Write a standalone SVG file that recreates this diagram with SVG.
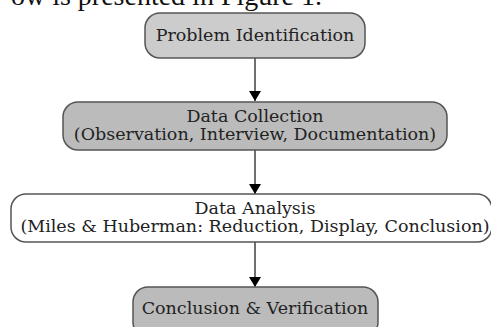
<svg xmlns="http://www.w3.org/2000/svg" width="491" height="327" viewBox="0 0 491 327">
<defs>
<style>
.box{stroke:#555;stroke-width:1.5}
.lbl{font-family:"DejaVu Serif",serif;font-size:17.5px;fill:#222;text-anchor:middle}
.edge{stroke:#222;stroke-width:1.3;fill:none}
.cap{font-family:"Liberation Serif",serif;font-size:28px;fill:#111}
</style>
<marker id="ah" viewBox="0 0 10 12" refX="10" refY="6" markerWidth="10" markerHeight="12" markerUnits="userSpaceOnUse" orient="auto">
<path d="M0,0 L10,6 L0,12 Z" fill="#000"/>
</marker>
</defs>
<text class="cap" x="322" y="5" text-anchor="end">ow is presented in Figure 1.</text>
<g id="connectors">
<line class="edge" x1="255" y1="58" x2="255" y2="101" marker-end="url(#ah)"/>
<line class="edge" x1="255" y1="150" x2="255" y2="194" marker-end="url(#ah)"/>
<line class="edge" x1="255" y1="242" x2="255" y2="287" marker-end="url(#ah)"/>
</g>
<g id="n1">
<rect class="box" x="145" y="13" width="220" height="45" rx="15" fill="#cccccc"/>
<text class="lbl" x="255" y="41">Problem Identification</text>
</g>
<g id="n2">
<rect class="box" x="63" y="102" width="384" height="48" rx="15" fill="#bbbbbb"/>
<text class="lbl" x="255" y="122">Data Collection</text>
<text class="lbl" x="255" y="139.5">(Observation, Interview, Documentation)</text>
</g>
<g id="n3">
<rect class="box" x="11" y="194" width="481" height="48" rx="15" fill="#ffffff"/>
<text class="lbl" x="255" y="214">Data Analysis</text>
<text class="lbl" x="255" y="232">(Miles &amp; Huberman: Reduction, Display, Conclusion)</text>
</g>
<g id="n4">
<rect class="box" x="133" y="287" width="245" height="50" rx="15" fill="#bbbbbb"/>
<text class="lbl" x="255" y="314">Conclusion &amp; Verification</text>
</g>
</svg>
